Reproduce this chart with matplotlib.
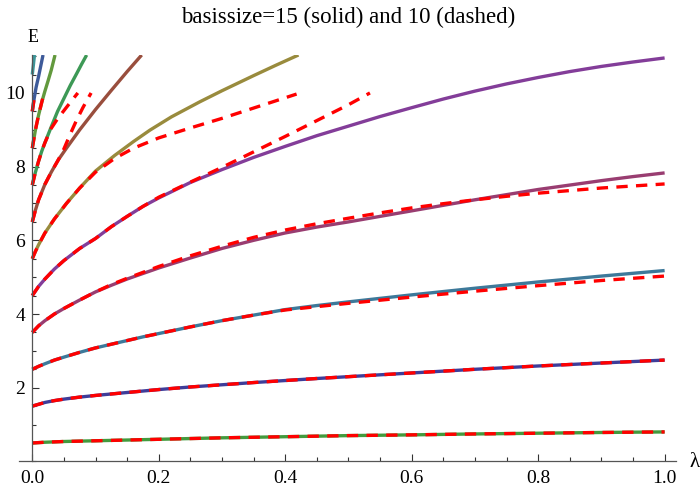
import matplotlib
matplotlib.use("Agg")
import matplotlib.pyplot as plt
from matplotlib.ticker import MultipleLocator, FixedLocator

# common lambda grid for the long curves (levels 0..4)
lam_full = [0, 0.01, 0.02, 0.035, 0.05, 0.075, 0.1, 0.125, 0.15, 0.175, 0.2,
            0.25, 0.3, 0.35, 0.4, 0.45, 0.5, 0.55, 0.6, 0.65, 0.7, 0.75,
            0.8, 0.85, 0.9, 0.95, 1.0]

# basissize = 15 (solid)
e_s0 = [0.5, 0.51, 0.52, 0.53, 0.54, 0.55, 0.56, 0.57, 0.58, 0.59, 0.6,
        0.62, 0.64, 0.655, 0.67, 0.685, 0.7, 0.71, 0.72, 0.733, 0.745, 0.755,
        0.765, 0.775, 0.785, 0.793, 0.8]
e_s1 = [1.5, 1.55, 1.6, 1.65, 1.69, 1.745, 1.79, 1.83, 1.87, 1.91, 1.95,
        2.02, 2.08, 2.14, 2.195, 2.25, 2.3, 2.35, 2.4, 2.45, 2.5, 2.545,
        2.59, 2.63, 2.67, 2.71, 2.75]
e_s2 = [2.5, 2.58, 2.65, 2.75, 2.83, 2.96, 3.08, 3.18, 3.28, 3.38, 3.47,
        3.65, 3.82, 3.97, 4.12, 4.23, 4.33, 4.425, 4.52, 4.61, 4.7, 4.785,
        4.87, 4.95, 5.03, 5.105, 5.18]
e_s3 = [3.5, 3.68, 3.82, 4.0, 4.15, 4.38, 4.6, 4.78, 4.95, 5.1, 5.25,
        5.52, 5.78, 6.0, 6.2, 6.36, 6.5, 6.65, 6.8, 6.95, 7.1, 7.24,
        7.38, 7.5, 7.62, 7.73, 7.83]
e_s4 = [4.5, 4.75, 4.95, 5.22, 5.45, 5.78, 6.05, 6.37, 6.65, 6.92, 7.15,
        7.57, 7.92, 8.25, 8.55, 8.84, 9.1, 9.36, 9.6, 9.835, 10.05, 10.245,
        10.42, 10.58, 10.72, 10.84, 10.95]

lam_s5 = [0, 0.005, 0.01, 0.02, 0.035, 0.054, 0.075, 0.1, 0.13, 0.16, 0.186,
          0.22, 0.265, 0.3, 0.35, 0.385, 0.421]
e_s5 = [5.5, 5.7, 5.88, 6.2, 6.58, 7.0, 7.42, 7.88, 8.3, 8.68, 8.99,
        9.35, 9.76, 10.06, 10.47, 10.75, 11.03]
lam_s6 = [0, 0.005, 0.01, 0.02, 0.03, 0.041, 0.054, 0.075, 0.1, 0.125, 0.15, 0.173]
e_s6 = [6.5, 6.82, 7.1, 7.52, 7.85, 8.18, 8.5, 9.0, 9.55, 10.07, 10.58, 11.03]
lam_s7 = [0, 0.005, 0.01, 0.015, 0.02, 0.03, 0.04, 0.05, 0.06, 0.07, 0.078, 0.086]
e_s7 = [7.5, 7.85, 8.15, 8.42, 8.65, 9.08, 9.5, 9.85, 10.2, 10.52, 10.78, 11.03]
lam_s8 = [0, 0.005, 0.01, 0.015, 0.02, 0.025, 0.03, 0.036]
e_s8 = [8.5, 9.0, 9.4, 9.75, 10.05, 10.33, 10.62, 11.03]
lam_s9 = [0, 0.003, 0.006, 0.01, 0.013, 0.017]
e_s9 = [9.5, 9.85, 10.15, 10.45, 10.7, 11.03]
lam_s10 = [0, 0.002, 0.0035]
e_s10 = [10.5, 10.8, 11.03]

# basissize = 10 (dashed)
e_d0 = e_s0
e_d1 = e_s1
e_d2 = [2.5, 2.58, 2.65, 2.75, 2.83, 2.96, 3.08, 3.18, 3.28, 3.38, 3.47,
        3.65, 3.82, 3.97, 4.11, 4.2, 4.29, 4.375, 4.46, 4.54, 4.62, 4.695,
        4.77, 4.84, 4.91, 4.97, 5.03]
e_d3 = [3.5, 3.68, 3.82, 4.0, 4.15, 4.38, 4.6, 4.8, 4.97, 5.13, 5.29,
        5.58, 5.84, 6.08, 6.28, 6.45, 6.6, 6.745, 6.88, 6.995, 7.1, 7.195,
        7.28, 7.35, 7.42, 7.475, 7.53]
lam_d4 = [0, 0.01, 0.02, 0.035, 0.05, 0.075, 0.1, 0.125, 0.15, 0.175, 0.2,
          0.25, 0.3, 0.35, 0.4, 0.45, 0.5, 0.534]
e_d4 = [4.5, 4.75, 4.95, 5.22, 5.45, 5.78, 6.05, 6.37, 6.65, 6.92, 7.17,
        7.58, 7.98, 8.4, 8.82, 9.25, 9.68, 10.0]
lam_d5 = [0, 0.005, 0.01, 0.02, 0.035, 0.054, 0.075, 0.1, 0.13, 0.16, 0.2,
          0.25, 0.3, 0.35, 0.418]
e_d5 = [5.5, 5.7, 5.88, 6.2, 6.58, 7.0, 7.42, 7.85, 8.22, 8.5, 8.78,
        9.05, 9.31, 9.59, 9.97]
lam_d6 = [0, 0.005, 0.01, 0.02, 0.03, 0.041, 0.05, 0.06, 0.07, 0.08, 0.093]
e_d6 = [6.5, 6.82, 7.1, 7.52, 7.85, 8.18, 8.48, 8.88, 9.26, 9.6, 10.0]
lam_d7 = [0, 0.005, 0.01, 0.015, 0.02, 0.03, 0.04, 0.05, 0.06, 0.072]
e_d7 = [7.5, 7.85, 8.15, 8.42, 8.65, 9.04, 9.3, 9.52, 9.74, 10.0]
lam_d8 = [0, 0.005, 0.01, 0.015, 0.0185]
e_d8 = [8.5, 9.0, 9.4, 9.75, 10.0]
lam_d9 = [0, 0.003, 0.0045]
e_d9 = [9.5, 9.85, 10.0]

colors = ['#439a3d', '#3f3d99', '#3d799a', '#993d71', '#833d99', '#998b3d',
          '#994e3d', '#3d9956', '#62993d', '#3d5a99', '#3d9699']

solid = [(lam_full, e_s0), (lam_full, e_s1), (lam_full, e_s2), (lam_full, e_s3),
         (lam_full, e_s4), (lam_s5, e_s5), (lam_s6, e_s6), (lam_s7, e_s7),
         (lam_s8, e_s8), (lam_s9, e_s9), (lam_s10, e_s10)]
dashed = [(lam_full, e_d0), (lam_full, e_d1), (lam_full, e_d2), (lam_full, e_d3),
          (lam_d4, e_d4), (lam_d5, e_d5), (lam_d6, e_d6), (lam_d7, e_d7),
          (lam_d8, e_d8), (lam_d9, e_d9)]

plt.rcParams['font.family'] = ['Liberation Serif', 'DejaVu Serif']

fig = plt.figure(figsize=(7, 4.86), dpi=100)
ax = fig.add_axes([19 / 700, 1 - 461.4 / 486, 657 / 700, 406.4 / 486])

for (x, y), c in zip(solid, colors):
    ax.plot(x, y, color=c, lw=2.4, solid_capstyle='butt', solid_joinstyle='round')
for x, y in dashed:
    ax.plot(x, y, color='red', lw=2.4, dashes=(3.4, 2.5))

ax.set_xlim(-0.021, 1.018)
ax.set_ylim(0, 11.03)

for s in ['top', 'right']:
    ax.spines[s].set_visible(False)
ax.spines['left'].set_position(('data', 0))
for s in ['left', 'bottom']:
    ax.spines[s].set_color('#555555')
    ax.spines[s].set_linewidth(0.9)

ax.xaxis.set_major_locator(FixedLocator([0, 0.2, 0.4, 0.6, 0.8, 1.0]))
ax.xaxis.set_minor_locator(MultipleLocator(0.05))
ax.yaxis.set_major_locator(FixedLocator([2, 4, 6, 8, 10]))
ax.yaxis.set_minor_locator(MultipleLocator(0.5))
ax.set_xticklabels(['0.0', '0.2', '0.4', '0.6', '0.8', '1.0'])
ax.tick_params(which='both', direction='in', color='#333333', labelsize=14, width=0.8)
ax.tick_params(which='major', length=5)
ax.tick_params(which='minor', length=3)
ax.tick_params(axis='x', pad=6)
ax.tick_params(axis='y', pad=5)

fig.text(348 / 700, 1 - 17 / 486, 'basissize=15 (solid) and 10 (dashed)',
         ha='center', va='center', fontsize=16.5)
fig.text(33 / 700, 1 - 37 / 486, 'E', ha='center', va='center', fontsize=13)
fig.text(695 / 700, 1 - 462 / 486, 'λ', ha='center', va='center', fontsize=15)

fig.savefig('out.png', dpi=100)
